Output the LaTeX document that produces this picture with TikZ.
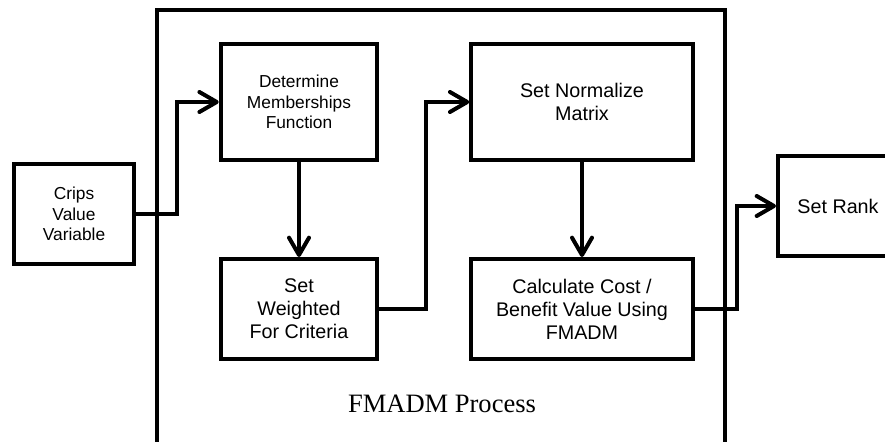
\documentclass[tikz,border=0pt]{standalone}
\usepackage{fontspec}
\setmainfont{Liberation Serif}
\setsansfont{Liberation Sans}
\usetikzlibrary{arrows.meta}

\begin{document}
\begin{tikzpicture}[x=0.75pt, y=-0.75pt, line width=3pt,
     block/.style = {shape=rectangle, draw, align=center, inner sep=2pt},
     smalltxt/.style = {font=\sffamily\fontsize{13}{15.4}\selectfont},
     bigtxt/.style = {font=\sffamily\fontsize{14.8}{17.3}\selectfont},
     flow/.style = {-{Straight Barb[length=13pt, width=15pt, round]}}]
        \useasboundingbox (0,0) rectangle (885,442);
        \clip (0,0) rectangle (885,442);
        % outer frame, open at the bottom
        \coordinate (frameSW) at (157,460);
        \coordinate (frameNW) at (157,10);
        \coordinate (frameNE) at (725,10);
        \coordinate (frameSE) at (725,460);
        \draw (frameSW) -- (frameNW) -- (frameNE) -- (frameSE);
        \node [font=\fontsize{19.9}{22}\selectfont] (process) at (442,404) {FMADM Process};

        \node [block, smalltxt, minimum width=89.6pt, minimum height=75pt] (crips) at (74,214)
            {Crips\\Value\\Variable};
        \node [block, smalltxt, minimum width=117.4pt, minimum height=86.6pt] (member) at (299,102)
            {Determine\\Memberships\\Function};
        \node [block, bigtxt, minimum width=117.4pt, minimum height=75pt] (weight) at (299,309)
            {Set\\Weighted\\For Criteria};
        \node [block, bigtxt, minimum width=166.1pt, minimum height=86.6pt] (normal) at (582,102)
            {Set Normalize\\Matrix};
        \node [block, bigtxt, minimum width=166.1pt, minimum height=75pt] (cost) at (582,309)
            {Calculate Cost /\\Benefit Value Using\\FMADM};
        \node [block, bigtxt, minimum width=90pt, minimum height=75pt] (rank) at (838,206)
            {Set Rank};

        \draw [flow] (crips.east) -- ++(41,0) |- (member.west);
        \draw [flow] (member.south) -- (weight.north);
        \draw [flow] (weight.east) -- ++(47,0) |- (normal.west);
        \draw [flow] (normal.south) -- (cost.north);
        \draw [flow] (cost.east) -- ++(42,0) |- (rank.west);
\end{tikzpicture}
\end{document}
